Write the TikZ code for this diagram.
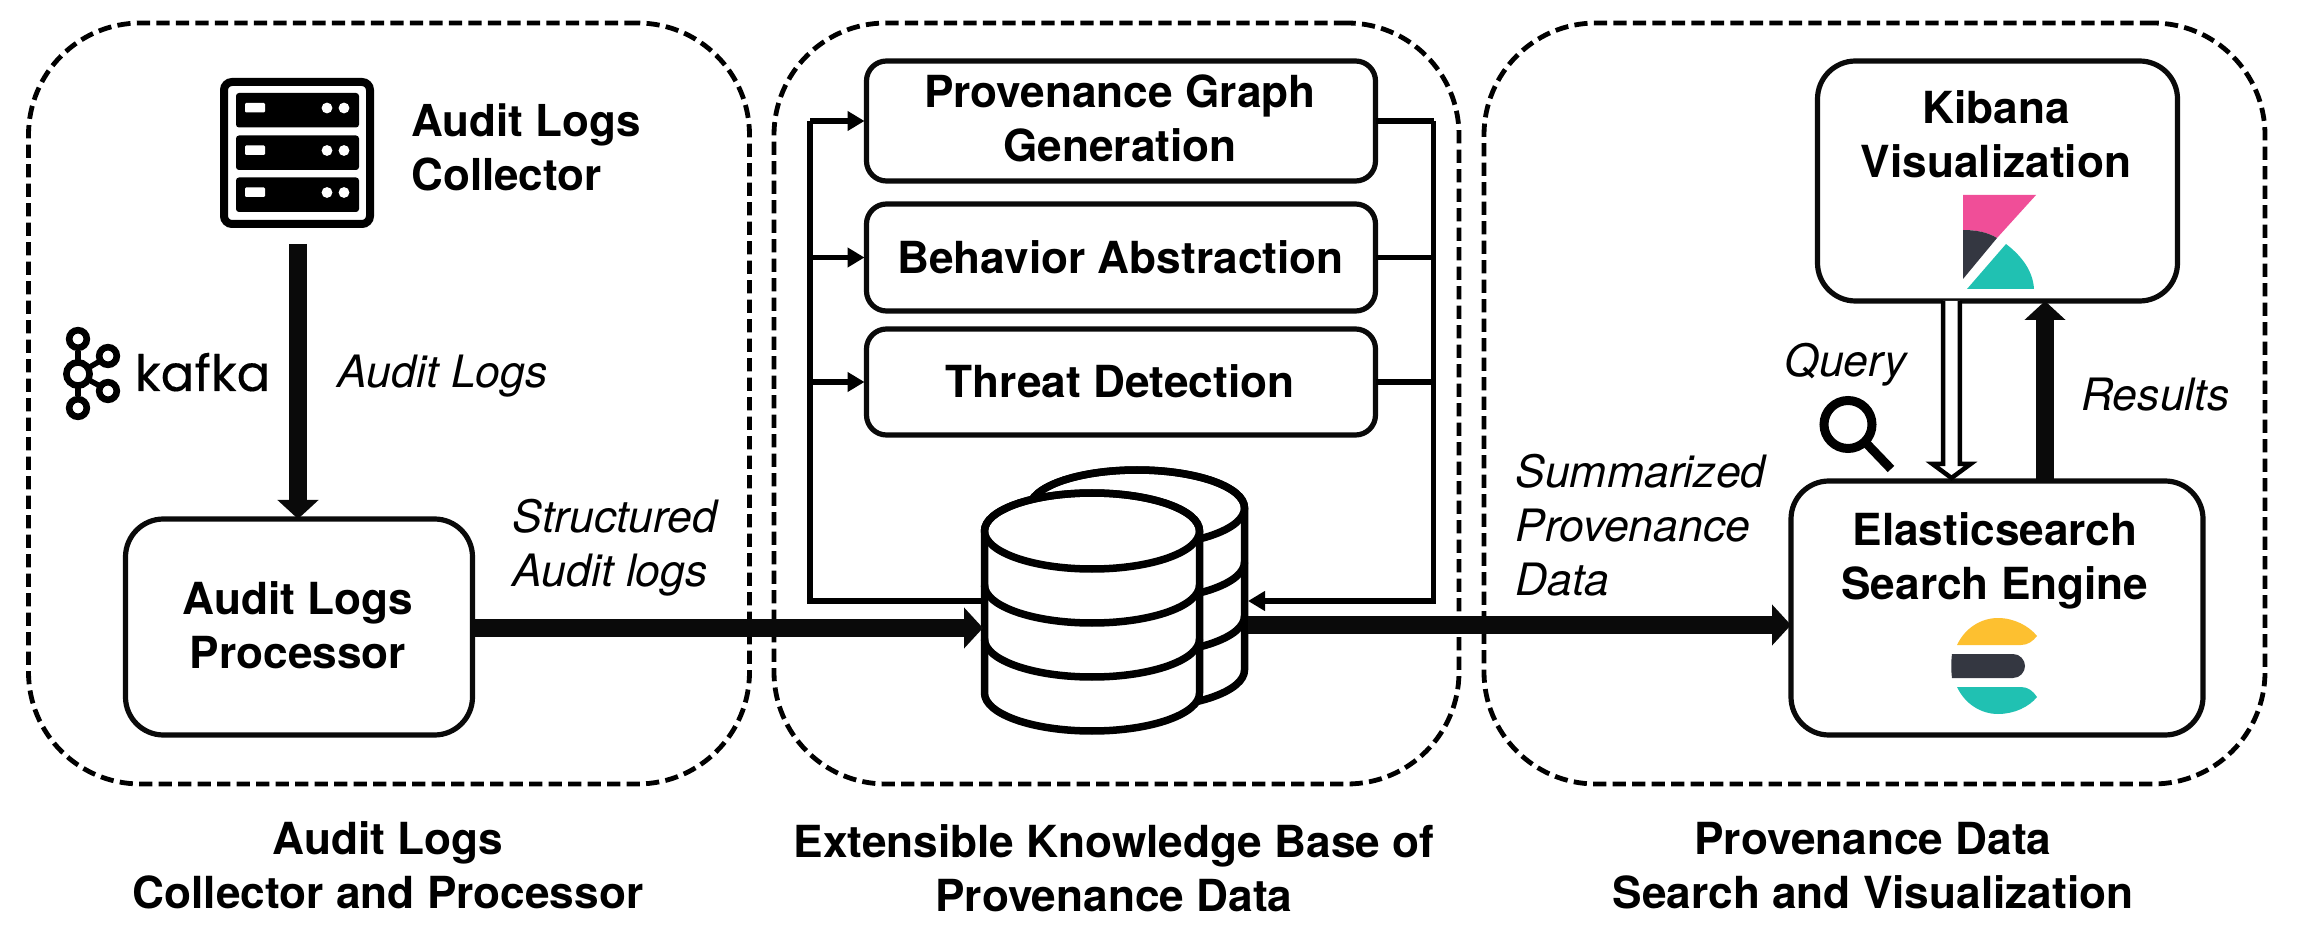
\documentclass[tikz,border=0pt]{standalone}
\usepackage{fontspec}
\setmainfont{TeX Gyre Heros}
\newfontfamily\kafkafont[FakeBold=0.3]{Poppins}
\usetikzlibrary{arrows.meta,calc}
\definecolor{kpink}{HTML}{F04E98}
\definecolor{kdark}{HTML}{343741}
\definecolor{kteal}{HTML}{20C1B2}
\definecolor{kyellow}{HTML}{FDC030}
\definecolor{linedark}{HTML}{0A0A0A}
\tikzset{
  x=0.5pt,y=-0.5pt,
  grp/.style={draw,line width=2.4pt,dash pattern=on 6.6pt off 3.15pt,rounded corners=56pt,inner sep=0pt,outer sep=0pt},
  wbox/.style={draw=linedark,fill=white,line width=2.6pt,rounded corners=10pt,inner sep=0pt,outer sep=0pt},
  rbox/.style={wbox,rounded corners=19pt},
  bt/.style={font=\fontsize{22.1}{27}\selectfont\bfseries,align=center,inner sep=0pt,anchor=base,yshift=-0.75pt},
  it/.style={font=\fontsize{22.3}{27}\selectfont\itshape,align=left,inner sep=0pt,anchor=base west,yshift=-0.75pt},
  thin conn/.style={draw=black,line width=2.6pt},
  thin arrow/.style={thin conn,-{Triangle[length=8.5pt,width=9.5pt,sep=0pt]},shorten >=1pt},
  thick conn/.style={draw=linedark,line width=8.8pt},
  thick arrow/.style={thick conn,-{Triangle[length=9.5pt,width=20pt]}},
  ghost/.style={inner sep=0pt,outer sep=0pt},
}
\begin{document}
\begin{tikzpicture}
\useasboundingbox (0,0) rectangle (2298,930);
\fill[white] (0,0) rectangle (2298,930);

% group frames
\node[grp,minimum width=360.5pt,minimum height=380.5pt] (g1) at (389,403.5) {};
\node[grp,minimum width=342.5pt,minimum height=380.5pt] (g2) at (1116.5,403.5) {};
\node[grp,minimum width=390.5pt,minimum height=380.5pt] (g3) at (1874.5,403.5) {};

% captions
\node[bt] (c1) at (388,907) {Audit Logs\\Collector and Processor};
\node[bt] (c2) at (1114,910) {Extensible Knowledge Base of\\Provenance Data};
\node[bt] (c3) at (1873,907) {Provenance Data\\Search and Visualization};

% server icon
\node[ghost,minimum width=77pt,minimum height=75pt] (server) at (297,153) {};
\draw[line width=4pt,rounded corners=4pt] (224,82) rectangle (370,224);
\foreach \yy in {93,135.5,177.5}{
  \fill[rounded corners=1.5pt] (236,\yy) rectangle +(123,34.5);
  \fill[white,rounded corners=0.6pt] (245,\yy+10) rectangle +(20,9.5);
  \fill[white] (327,\yy+15) circle[radius=2.7pt];
  \fill[white] (344,\yy+15) circle[radius=2.7pt];
}
\node[font=\fontsize{22}{27}\selectfont\bfseries,align=left,inner sep=0pt,anchor=base west] (collector) at (411,191) {Audit Logs\\Collector};

% kafka logo
\begin{scope}[line width=2.7pt]
\draw (78,351) -- (78,396);
\draw (78,374) -- (100,361);
\draw (78,374) -- (100,386);
\draw[line width=3.3pt,fill=white] (78,374) circle[radius=5.8pt];
\draw[line width=3.3pt,fill=white] (78,339) circle[radius=4.4pt];
\draw[line width=3.3pt,fill=white] (78,408) circle[radius=4.4pt];
\draw[line width=3.3pt,fill=white] (108,356) circle[radius=4.4pt];
\draw[line width=3.3pt,fill=white] (108,391) circle[radius=4.4pt];
\end{scope}
\node[font=\fontsize{25}{27}\selectfont\kafkafont,inner sep=0pt,anchor=base west] (kafka) at (134.5,391) {kafka};
\node[it] (auditlabel) at (337.5,386) {Audit Logs};

% processor
\node[rbox,minimum width=173.5pt,minimum height=108pt] (proc) at (299,627) {};
\node[bt] (proct) at (298,666.5) {Audit Logs\\Processor};
\node[it] (structlabel) at (512.5,585) {Structured\\Audit logs};

% module boxes
\node[wbox,minimum width=254.5pt,minimum height=60pt] (prov) at (1121,121) {};
\node[wbox,minimum width=254.5pt,minimum height=53.5pt] (beh) at (1121,257.5) {};
\node[wbox,minimum width=254.5pt,minimum height=53pt] (thr) at (1121,382) {};
\node[bt] (provt) at (1120,160) {Provenance Graph\\Generation};
\node[bt] (beht) at (1120.5,272) {Behavior Abstraction};
\node[bt] (thrt) at (1120,396) {Threat Detection};

% database
\node[ghost,minimum width=133pt,minimum height=134.5pt] (db) at (1115,600) {};
\coordinate (dbin) at (983,628);
\coordinate (dbout) at (1248,625);
\coordinate (dbfbl) at (983,601);
\coordinate (dbfbr) at (1248,601);
\newcommand{\dbcyl}[2]{%
  \draw[line width=3.75pt,fill=white,line join=round] (#1-107.5,#2) -- (#1-107.5,#2+162)
     arc[start angle=180,end angle=360,x radius=53.75pt,y radius=19pt] -- (#1+107.5,#2)
     arc[start angle=0,end angle=180,x radius=53.75pt,y radius=19pt] -- cycle;
  \draw[line width=3.75pt] (#1,#2) ellipse[x radius=53.75pt,y radius=19pt];
  \draw[line width=3.75pt] (#1-107.5,#2+54) arc[start angle=180,end angle=360,x radius=53.75pt,y radius=19pt];
  \draw[line width=3.75pt] (#1-107.5,#2+108) arc[start angle=180,end angle=360,x radius=53.75pt,y radius=19pt];
}
\dbcyl{1137}{508}
\dbcyl{1092}{531}

% feedback connectors
\coordinate (busl) at (810,121);
\coordinate (busr) at (1433.5,121);
\draw[thin conn,line join=miter] (dbfbl) -- (busl |- dbfbl) -- (busl);
\draw[thin arrow] (busl) -- (prov.west);
\draw[thin arrow] (busl |- beh.west) -- (beh.west);
\draw[thin arrow] (busl |- thr.west) -- (thr.west);
\draw[thin conn] (prov.east) -- (busr);
\draw[thin conn] (beh.east) -- (busr |- beh.east);
\draw[thin conn] (thr.east) -- (busr |- thr.east);
\draw[thin arrow,line join=miter,shorten >=0pt] (busr) -- (busr |- dbfbr) -- (dbfbr);

% kibana and elasticsearch
\node[rbox,minimum width=180pt,minimum height=120pt] (kib) at (1997.5,181) {};
\node[bt] (kibt) at (1996,176.5) {Kibana\\Visualization};
\node[rbox,minimum width=206pt,minimum height=127pt] (elas) at (1997,608) {};
\node[bt] (elast) at (1995,598) {Elasticsearch\\Search Engine};

% kibana logo
\fill[kpink] (1963,195) -- (2036,195) -- (1997,238) .. controls (1987,232) and (1976,230) .. (1963,230) -- cycle;
\fill[kdark] (1963,230) .. controls (1976,230) and (1987,232) .. (1997,238) -- (1963,279) -- cycle;
\fill[kteal] (1967,289) -- (2006,244) .. controls (2023,257) and (2033,272) .. (2034,289) -- cycle;

% elasticsearch logo
\fill[kyellow] (1957,645) .. controls (1965,628) and (1981,618) .. (1998,618) .. controls (2014,618) and (2029,626) .. (2037,636) .. controls (2033,641) and (2028,645) .. (2021,645) -- cycle;
\fill[kdark] (1952,654) -- (2013,654) .. controls (2020,654) and (2025,660) .. (2025,666) .. controls (2025,672) and (2020,678) .. (2013,678) -- (1952,678) .. controls (1951,670) and (1951,662) .. (1952,654) -- cycle;
\fill[kteal] (1957,687) -- (2021,687) .. controls (2028,687) and (2033,691) .. (2037,697) .. controls (2029,707) and (2014,714) .. (1998,714) .. controls (1981,714) and (1965,704) .. (1957,687) -- cycle;

% thick connectors
\coordinate (logstart) at (298,244);
\draw[thick arrow] (logstart) -- (logstart |- proc.north);
\draw[thick arrow] (proc.east |- dbin) -- (dbin);
\draw[thick arrow] (dbout) -- (elas.west |- dbout);
\coordinate (resx) at (2045,400);
\draw[thick arrow] (resx |- elas.north) -- (resx |- kib.south);

% query arrow
\coordinate (qx) at (1951.5,400);
\coordinate (qa) at (qx |- kib.south);
\coordinate (qb) at (qx |- elas.north);
\draw[fill=white,line width=2.25pt,line join=miter]
  ($(qa)+(-8.3,0)$) -- ($(qb)+(-8.3,-17)$) -- ($(qb)+(-19,-17)$) -- ($(qb)+(0,-3)$)
  -- ($(qb)+(19,-17)$) -- ($(qb)+(8.3,-17)$) -- ($(qa)+(8.3,0)$);

% magnifier
\draw[line width=4.5pt] (1848,424.5) circle[radius=12pt];
\draw[line width=4.5pt] (1867,444) -- (1891,469);

% labels
\node[it] (summlabel) at (1515,594) {Summarized\\Provenance\\Data};
\node[it] (querylabel) at (1784,375) {Query};
\node[it] (reslabel) at (2081,409) {Results};
\end{tikzpicture}
\end{document}
